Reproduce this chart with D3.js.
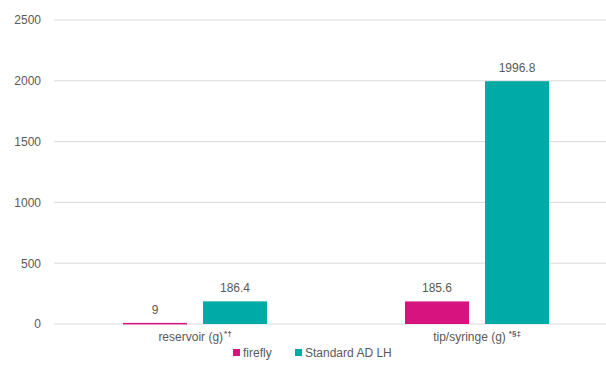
<!DOCTYPE html>
<html>
<head>
<meta charset="utf-8">
<script src="https://cdn.jsdelivr.net/npm/d3@7"></script>
<style>
  body { margin: 0; background: #fff; }
  text { font-family: "Liberation Sans", Arial, sans-serif; fill: #595959; }
</style>
</head>
<body>
<svg id="chart" width="606" height="374"></svg>
<script>
// data
var categories = ['reservoir (g)', 'tip/syringe (g)'];
var catMarks = ['*†', '*§‡'];
var seriesNames = ['firefly', 'Standard AD LH'];
var firefly = [9, 185.6];
var standard = [186.4, 1996.8];
var yTicks = [0, 500, 1000, 1500, 2000, 2500];
var colors = ['#d6137f', '#00aaa6'];

var svg = d3.select('#chart');
// plot runs a little past the right edge, as in the original image
var margin = { top: 20, right: -12, bottom: 50, left: 54 };
var width = 606 - margin.left - margin.right;
var height = 374 - margin.top - margin.bottom;

var g = svg.append('g')
  .attr('transform', 'translate(' + margin.left + ',' + margin.top + ')');

var x0 = d3.scaleBand().domain(categories).range([0, width]);
var x1 = d3.scaleBand().domain(seriesNames)
  .range([x0.bandwidth() / 2 - 72, x0.bandwidth() / 2 + 72]).paddingInner(0.2);
var y = d3.scaleLinear().domain([0, 2500]).range([height, 0]);

// grid
g.selectAll('.grid').data(yTicks).enter().append('line')
  .attr('x1', 0).attr('x2', width)
  .attr('y1', function(d) { return y(d); })
  .attr('y2', function(d) { return y(d); })
  .attr('stroke', '#d9d9d9').attr('stroke-width', 1);

// y axis labels
var yAxis = d3.axisLeft(y).tickValues(yTicks).tickFormat(d3.format('d'))
  .tickSize(0).tickPadding(13);
g.append('g').call(yAxis)
  .call(function(s) { s.select('.domain').remove(); })
  .selectAll('text')
  .style('font-size', '12px')
  .style('fill', '#595959')
  .style('font-family', '"Liberation Sans", Arial, sans-serif');

var rows = categories.map(function(c, i) {
  return [
    { cat: c, s: seriesNames[0], v: firefly[i], color: colors[0] },
    { cat: c, s: seriesNames[1], v: standard[i], color: colors[1] }
  ];
});

var groups = g.selectAll('.cat').data(rows).enter().append('g')
  .attr('transform', function(d) { return 'translate(' + x0(d[0].cat) + ',0)'; });

groups.selectAll('rect').data(function(d) { return d; }).enter().append('rect')
  .attr('x', function(d) { return x1(d.s); })
  .attr('width', x1.bandwidth())
  .attr('y', function(d) { return y(d.v); })
  .attr('height', function(d) { return Math.max(1.5, y(0) - y(d.v)); })
  .attr('fill', function(d) { return d.color; });

groups.selectAll('.lbl').data(function(d) { return d; }).enter().append('text')
  .attr('x', function(d) { return x1(d.s) + x1.bandwidth() / 2; })
  .attr('y', function(d) { return y(d.v) - 9; })
  .attr('text-anchor', 'middle')
  .style('font-size', '12px')
  .text(function(d) { return d.v; });

// category labels
var catText = g.selectAll('.catlbl').data(categories).enter().append('text')
  .attr('x', function(d) { return x0(d) + x0.bandwidth() / 2; })
  .attr('y', height + 17)
  .attr('text-anchor', 'middle')
  .style('font-size', '12px');
catText.append('tspan').text(function(d) { return d; });
catText.append('tspan')
  .attr('dy', -5).attr('dx', function(d, i) { return i ? 3 : 1; })
  .style('font-size', '8px')
  .style('font-weight', 'bold')
  .text(function(d, i) { return catMarks[i]; });

// legend
var legend = svg.append('g').attr('transform', 'translate(233,352)');
var legX = [0, 62];
seriesNames.forEach(function(name, i) {
  var lg = legend.append('g').attr('transform', 'translate(' + legX[i] + ',0)');
  lg.append('rect').attr('x', 0).attr('y', -3).attr('width', 7).attr('height', 7)
    .attr('fill', colors[i]);
  lg.append('text').attr('x', 10).attr('y', 4.5)
    .style('font-size', '12px').text(name);
});
</script>
</body>
</html>
